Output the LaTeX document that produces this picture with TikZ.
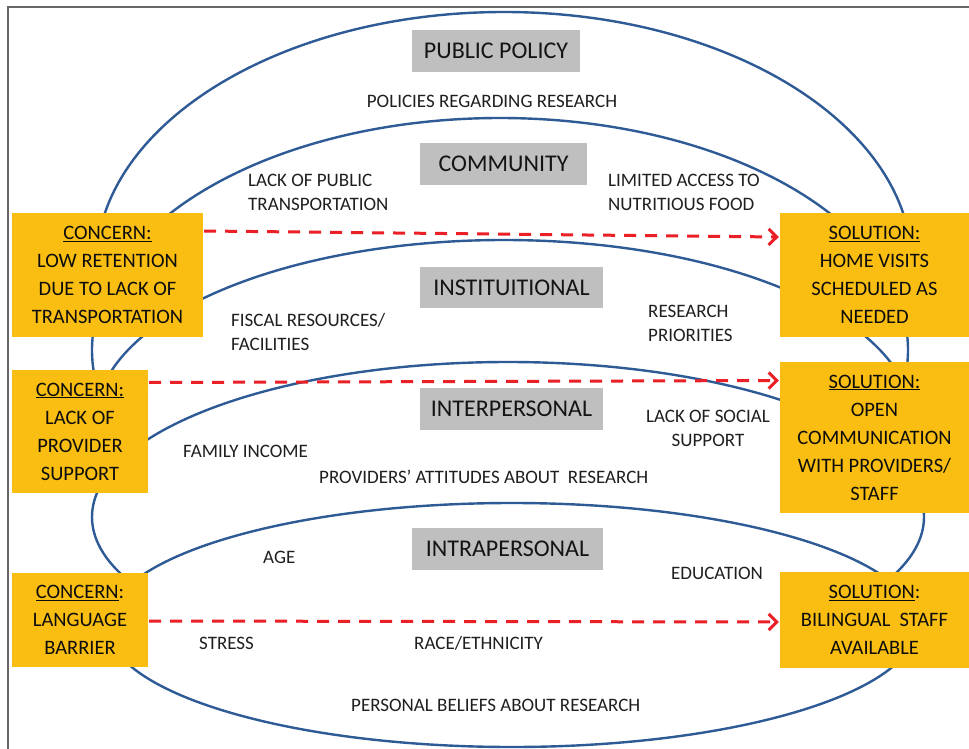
\documentclass[tikz,border=0pt]{standalone}
\usepackage{fontspec}
\setmainfont{Carlito}
\usetikzlibrary{arrows.meta}
\definecolor{ringblue}{RGB}{46,90,150}
\definecolor{boxgold}{RGB}{250,190,18}
\definecolor{levelgray}{RGB}{191,191,191}
\definecolor{linkred}{RGB}{235,32,38}
\begin{document}
\begin{tikzpicture}[x=1pt,y=-1pt,line width=2.4pt,
		ring/.style={draw=ringblue,fill=white},
		level/.style={fill=levelgray,text=black!92,inner sep=0pt,font=\fontsize{24}{28}\selectfont},
		factor/.style={text=black!88,inner sep=0pt,align=left,font=\fontsize{19}{24}\selectfont},
		action/.style={fill=boxgold,text=black!95,inner sep=0pt,align=center,font=\fontsize{20.5}{28}\selectfont},
		link/.style={draw=linkred,line width=3pt,dash pattern=on 12pt off 9pt,-{Straight Barb[length=8pt,width=16pt]}}]
		\useasboundingbox (0,0) rectangle (969,749);
		\fill[white] (0,0) rectangle (969,749);
		\draw[line width=1.3pt,black!60] (969,7) -- (8,7) -- (8,749);
		\draw[ring] (504,266) ellipse (408pt and 254pt);
		\draw[ring] (500,350) ellipse (408pt and 232pt);
		\draw[ring] (504,420) ellipse (408pt and 180pt);
		\draw[ring] (508,517) ellipse (416pt and 155pt);
		\draw[ring] (512,625) ellipse (405pt and 122pt);
		\node[level,minimum width=168pt,minimum height=42pt] (policy) at (496,51) {PUBLIC POLICY};
		\node[level,minimum width=167pt,minimum height=42pt] (community) at (503.5,164) {COMMUNITY};
		\node[level,minimum width=183pt,minimum height=41pt] (institutional) at (511.5,287.5) {INSTITUITIONAL};
		\node[level,minimum width=183pt,minimum height=42pt] (interpersonal) at (511.5,409) {INTERPERSONAL};
		\node[level,minimum width=191pt,minimum height=42pt] (intrapersonal) at (507.5,549) {INTRAPERSONAL};
		\node[factor] (policies) at (492,101) {POLICIES REGARDING RESEARCH};
		\node[factor,anchor=west] (transport) at (247,192) {LACK OF PUBLIC\\TRANSPORTATION};
		\node[factor,anchor=west] (food) at (607,192) {LIMITED ACCESS TO\\NUTRITIOUS FOOD};
		\node[factor,anchor=west] (fiscal) at (230,332) {FISCAL RESOURCES/\\FACILITIES};
		\node[factor,anchor=west] (priorities) at (647,323) {RESEARCH\\PRIORITIES};
		\node[factor,anchor=west] (income) at (182,451) {FAMILY INCOME};
		\node[factor,anchor=west] (attitudes) at (318,477) {PROVIDERS’ ATTITUDES ABOUT~ RESEARCH};
		\node[factor,align=center] (social) at (708,428) {LACK OF SOCIAL\\SUPPORT};
		\node[factor,anchor=west] (age) at (262,557) {AGE};
		\node[factor,anchor=west] (education) at (670,573) {EDUCATION};
		\node[factor,anchor=west] (stress) at (198,643) {STRESS};
		\node[factor,anchor=west] (race) at (413,643) {RACE/ETHNICITY};
		\node[factor,anchor=west] (beliefs) at (350,705) {PERSONAL BELIEFS ABOUT RESEARCH};
		\node[action,minimum width=191pt,minimum height=124pt] (concern1) at (107.5,275) {\underline{CONCERN:}\\LOW RETENTION\\DUE TO LACK OF\\TRANSPORTATION};
		\node[action,minimum width=136pt,minimum height=123pt] (concern2) at (80,431.5) {\underline{CONCERN:}\\LACK OF\\PROVIDER\\SUPPORT};
		\node[action,minimum width=136pt,minimum height=94pt] (concern3) at (80,620) {\underline{CONCERN}:\\LANGUAGE\\BARRIER};
		\node[action,minimum width=189pt,minimum height=124pt] (solution1) at (874.5,275) {\underline{SOLUTION:}\\HOME VISITS\\SCHEDULED AS\\NEEDED};
		\node[action,minimum width=189pt,minimum height=151pt] (solution2) at (874.5,437.5) {\underline{SOLUTION:}\\OPEN\\COMMUNICATION\\WITH PROVIDERS/\\STAFF};
		\node[action,minimum width=189pt,minimum height=96pt] (solution3) at (874.5,620) {\underline{SOLUTION}:\\BILINGUAL~ STAFF\\AVAILABLE};
		\draw[link] ([yshift=44pt]concern1.east) -- ([yshift=38pt]solution1.west);
		\draw[link] ([yshift=49pt]concern2.east) -- ([yshift=57pt]solution2.west);
		\draw[link] ([yshift=-1pt]concern3.east) -- ([yshift=-2pt]solution3.west);
\end{tikzpicture}
\end{document}
